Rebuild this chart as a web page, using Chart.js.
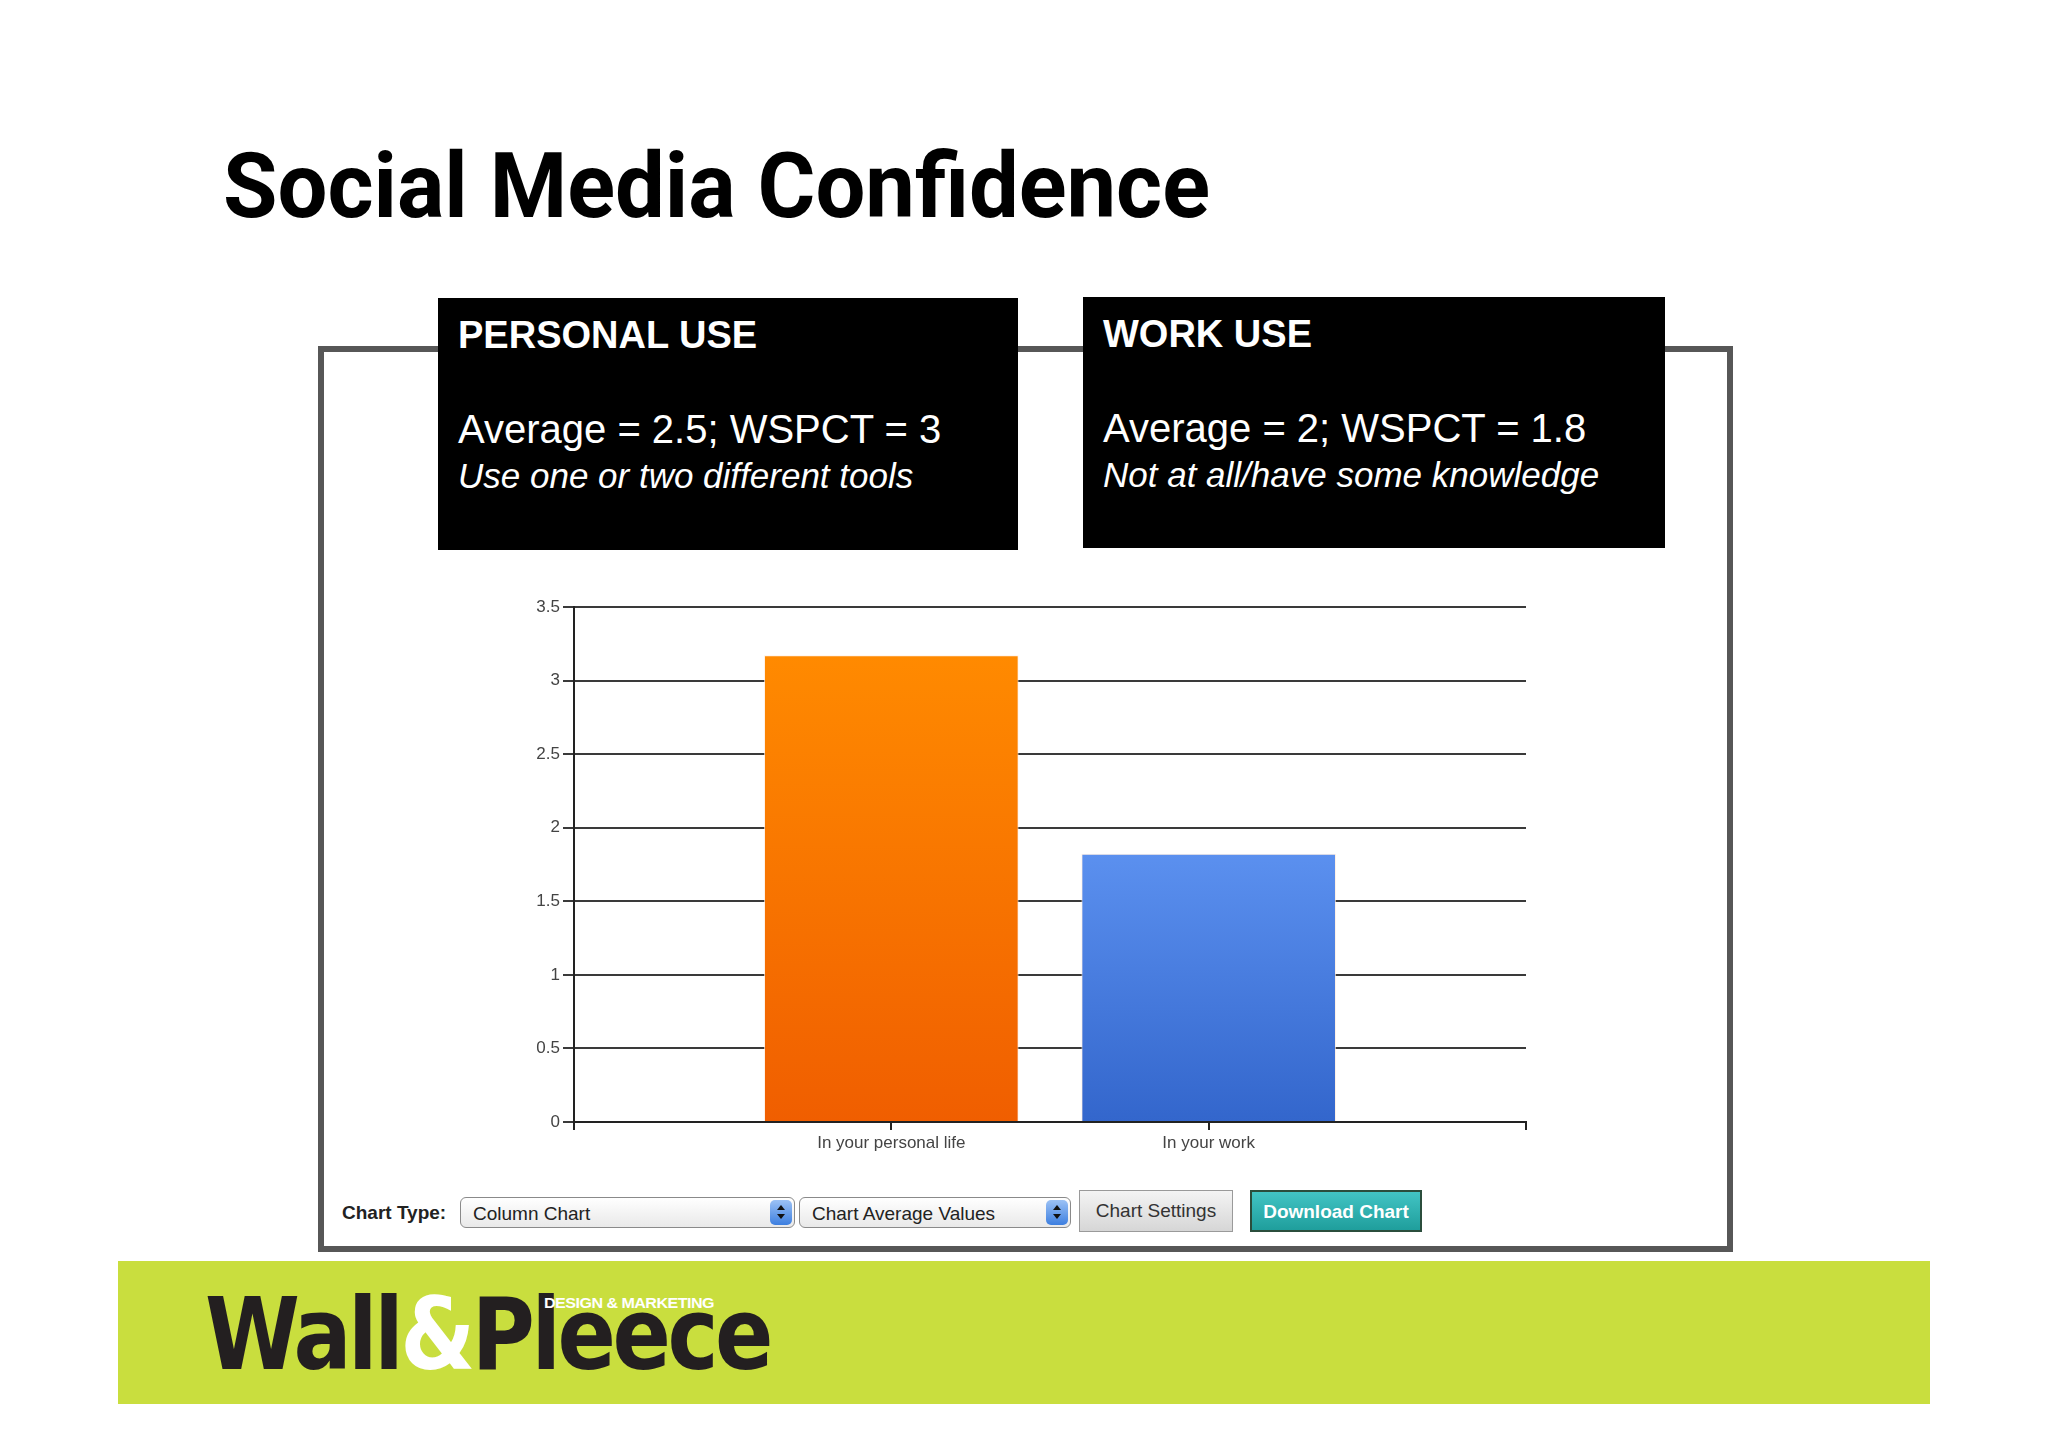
<!DOCTYPE html>
<html>
<head>
<meta charset="utf-8">
<script src="https://cdn.jsdelivr.net/npm/chart.js@4"></script>
<style>
  body { margin: 0; width: 2048px; height: 1447px; background: #fff; position: relative; overflow: hidden; font-family: "Liberation Sans", Arial, sans-serif; }
  .abs { position: absolute; white-space: nowrap; }
  #title { left: 223px; top: 141px; font-family: Roboto, sans-serif; font-weight: 700; font-size: 91px; line-height: 1; color: #000; transform-origin: 0 0; }
  #frame { left: 318px; top: 346px; width: 1415px; height: 906px; border: 6px solid #575757; box-sizing: border-box; }
  .infobox { background: #000; color: #fff; }
  .infobox div { position: absolute; left: 20px; line-height: 1; white-space: nowrap; }
  .head { font-weight: 700; font-size: 38px; }
  .avg { font-size: 40px; }
  .note { font-size: 35px; font-style: italic; }
  #chartCanvas { position: absolute; left: 500px; top: 590px; }
  .ctl { font-family: "Liberation Sans", Arial, sans-serif; font-size: 19px; color: #222; line-height: 1; }
  .sel { height: 31px; top: 1197px; box-sizing: border-box; border: 1px solid #8a8a8a; border-radius: 6px;
         background: linear-gradient(#ffffff, #e9e9e9); }
  .sel span { position: absolute; left: 12px; top: 6px; }
  .arrow { position: absolute; right: 2px; top: 2px; width: 22px; height: 25px; border-radius: 5px;
           background: linear-gradient(#9cc2f5, #3d7fe0); }
  .arrow:before, .arrow:after { content: ""; position: absolute; left: 7px; border-left: 4px solid transparent; border-right: 4px solid transparent; }
  .arrow:before { top: 5px; border-bottom: 5px solid #111; }
  .arrow:after { top: 14px; border-top: 5px solid #111; }
  .btn { top: 1190px; height: 42px; box-sizing: border-box; text-align: center; line-height: 40px; }
  #footer { left: 118px; top: 1261px; width: 1812px; height: 143px; background: #c9de3e; }
  #logo { left: 205px; top: 1285px; font-family: "DejaVu Sans", sans-serif; font-weight: 700; font-size: 100px; line-height: 1; color: #231f20; letter-spacing: -4px; transform-origin: 0 0; }
  #tag { left: 544px; top: 1295px; font-family: "Liberation Sans", Arial, sans-serif; font-weight: 700; font-size: 15px; line-height: 1; color: #fff; letter-spacing: -0.5px; transform-origin: 0 0; }
</style>
</head>
<body>
<div id="title" class="abs">Social Media Confidence</div>

<div id="frame" class="abs"></div>

<div class="abs infobox" style="left:438px; top:298px; width:580px; height:252px;">
  <div class="head" style="top:18px;">PERSONAL USE</div>
  <div class="avg" style="top:111px;">Average = 2.5; WSPCT = 3</div>
  <div class="note" style="top:160px;">Use one or two different tools</div>
</div>
<div class="abs infobox" style="left:1083px; top:297px; width:582px; height:251px;">
  <div class="head" style="top:18px;">WORK USE</div>
  <div class="avg" style="top:111px;">Average = 2; WSPCT = 1.8</div>
  <div class="note" style="top:160px;">Not at all/have some knowledge</div>
</div>

<canvas id="chartCanvas" width="1060" height="570"></canvas>

<div class="abs ctl" style="left:342px; top:1203px; font-weight:700;">Chart Type:</div>
<div class="abs ctl sel" style="left:460px; width:335px;"><span>Column Chart</span><i class="arrow"></i></div>
<div class="abs ctl sel" style="left:799px; width:272px;"><span>Chart Average Values</span><i class="arrow"></i></div>
<div class="abs ctl btn" style="left:1079px; width:154px; border:1px solid #9a9a9a; background:linear-gradient(#f4f4f4,#d6d6d6); color:#333;">Chart Settings</div>
<div class="abs ctl btn" style="left:1250px; width:172px; border:2px solid #2b4d3c; background:linear-gradient(#42c4c4,#1f9e9c); color:#fff; font-weight:700;">Download Chart</div>

<div id="footer" class="abs"></div>
<div id="logo" class="abs">Wall<span style="color:#fff">&amp;</span>Pleece</div>
<div id="tag" class="abs">DESIGN &amp; MARKETING</div>

<script>
const categories = ["In your personal life", "In your work"];
const values = [3.17, 1.82];
const topColors = ["#ff8a00", "#5b90ef"];
const bottomColors = ["#f05e00", "#3366cc"];
const yTicks = [0, 0.5, 1, 1.5, 2, 2.5, 3, 3.5];

function fitWidth(id, target) {
    const el = document.getElementById(id);
    const w = el.getBoundingClientRect().width;
    el.style.transform = "scaleX(" + (target / w) + ")";
}
fitWidth("title", 987);
fitWidth("logo", 565);
fitWidth("tag", 170);

function barFill(ctx) {
    const chart = ctx.chart;
    const i = ctx.dataIndex;
    if (!chart.chartArea) return topColors[i];
    const yScale = chart.scales.y;
    const top = yScale.getPixelForValue(values[i]);
    const bottom = yScale.getPixelForValue(0);
    const g = chart.ctx.createLinearGradient(0, top, 0, bottom);
    g.addColorStop(0, topColors[i]);
    g.addColorStop(1, bottomColors[i]);
    return g;
}

const tickFont = { family: "'Liberation Sans Narrow', 'Arial Narrow', 'Liberation Sans', Arial, sans-serif", size: 17 };

new Chart(document.getElementById("chartCanvas"), {
    type: "bar",
    data: {
        datasets: [{
            data: categories.map((c, i) => ({ x: i + 1, y: values[i] })),
            backgroundColor: barFill,
            borderColor: "rgba(255,235,220,0.7)",
            borderWidth: 1,
            barThickness: 254
        }]
    },
    options: {
        responsive: false,
        animation: false,
        layout: { padding: { top: 17, right: 34, left: 0, bottom: 0 } },
        plugins: { legend: { display: false }, tooltip: { enabled: false } },
        scales: {
            x: {
                type: "linear",
                min: 0,
                max: 3,
                offset: false,
                afterBuildTicks: s => { s.ticks = [0, 1, 2, 3].map(v => ({ value: v })); },
                afterFit: s => { s.height = 38; },
                border: { color: "#222", width: 2 },
                grid: { offset: false, drawOnChartArea: false, drawTicks: true, tickLength: 8, color: "#222", lineWidth: 2 },
                ticks: {
                    autoSkip: false, maxRotation: 0, padding: 3, color: "#444", font: tickFont,
                    callback: v => categories[v - 1] || ""
                }
            },
            y: {
                min: 0,
                max: 3.5,
                afterBuildTicks: s => { s.ticks = yTicks.map(v => ({ value: v })); },
                afterFit: s => { s.width = 74; },
                border: { color: "#222", width: 2 },
                grid: { color: "#3a3a3a", lineWidth: 2, tickLength: 11 },
                ticks: { padding: 3, color: "#444", font: tickFont, callback: v => String(v) }
            }
        }
    }
});
</script>
</body>
</html>
